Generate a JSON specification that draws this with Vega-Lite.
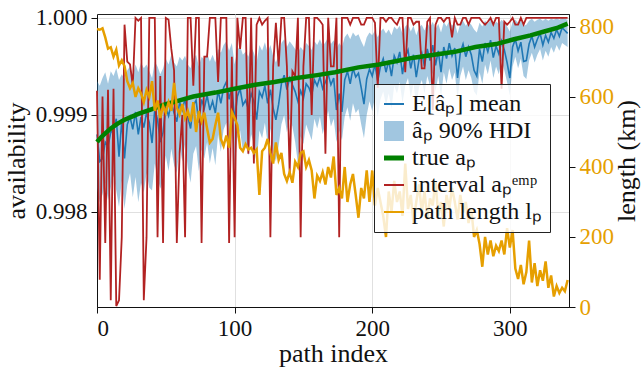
{
"$schema": "https://vega.github.io/schema/vega-lite/v6.json",
"width": 472, "height": 293,
"autosize": "none",
"padding": {"left": 97, "top": 14, "right": 75, "bottom": 60},
"config": {
  "font": "Liberation Serif",
  "view": {"stroke": "#222", "strokeWidth": 1},
  "axis": {"labelFont": "Liberation Serif", "titleFont": "Liberation Serif", "labelFontSize": 23, "titleFontSize": 26, "titleFontWeight": "normal", "labelColor": "#111", "titleColor": "#111", "tickColor": "#111", "domainColor": "#111", "gridColor": "#e0e0e0", "tickSize": 6, "labelPadding": 4, "grid": true},
  "legend": {"labelFont": "Liberation Serif"}
},
"datasets": {
"t": [
{"i":0,"a":0.99872},{"i":3,"a":0.99877},{"i":6,"a":0.99881},{"i":10,"a":0.99886},{"i":15,"a":0.99891},{"i":20,"a":0.99895},{"i":25,"a":0.99898},{"i":30,"a":0.99901},{"i":40,"a":0.99906},{"i":50,"a":0.99911},{"i":60,"a":0.99915},{"i":70,"a":0.99919},{"i":86,"a":0.99923},{"i":100,"a":0.99927},{"i":115,"a":0.99931},{"i":129,"a":0.99934},{"i":145,"a":0.99938},{"i":160,"a":0.99941},{"i":173,"a":0.99944},{"i":190,"a":0.99949},{"i":205,"a":0.99952},{"i":216,"a":0.99955},{"i":230,"a":0.99959},{"i":245,"a":0.99962},{"i":260,"a":0.99965},{"i":275,"a":0.9997},{"i":290,"a":0.99973},{"i":303,"a":0.99978},{"i":315,"a":0.99982},{"i":325,"a":0.99986},{"i":335,"a":0.9999},{"i":342,"a":0.99994}
],
"d": [
{"i":0,"m":0.9988,"b1":0.99825,"b2":0.99935,"e":0.99925,"l":794},
{"i":2,"m":0.99852,"b1":0.9981,"b2":0.9993,"e":0.9973,"l":792},
{"i":4,"m":0.99855,"b1":0.99818,"b2":0.99938,"e":0.99919,"l":796},
{"i":6,"m":0.99872,"b1":0.9983,"b2":0.99944,"e":0.99768,"l":770},
{"i":8,"m":0.99868,"b1":0.99812,"b2":0.99932,"e":0.99926,"l":738},
{"i":10,"m":0.99882,"b1":0.99825,"b2":0.99945,"e":0.99709,"l":742},
{"i":12,"m":0.99884,"b1":0.99838,"b2":0.9994,"e":0.99927,"l":715},
{"i":14,"m":0.99896,"b1":0.99822,"b2":0.99948,"e":0.99703,"l":735},
{"i":16,"m":0.99857,"b1":0.99805,"b2":0.99936,"e":0.99709,"l":690},
{"i":18,"m":0.99894,"b1":0.99832,"b2":0.99942,"e":0.99774,"l":705},
{"i":20,"m":0.99855,"b1":0.99803,"b2":0.99937,"e":0.99993,"l":688},
{"i":22,"m":0.9989,"b1":0.99828,"b2":0.99946,"e":0.99955,"l":645},
{"i":24,"m":0.99898,"b1":0.9984,"b2":0.9995,"e":0.99952,"l":625},
{"i":26,"m":0.99885,"b1":0.99815,"b2":0.99941,"e":0.9993,"l":640},
{"i":28,"m":0.99903,"b1":0.99836,"b2":0.99952,"e":1,"l":600},
{"i":30,"m":0.9988,"b1":0.9981,"b2":0.99944,"e":0.99997,"l":625},
{"i":32,"m":0.99898,"b1":0.9983,"b2":0.99954,"e":1,"l":610},
{"i":34,"m":0.99887,"b1":0.9982,"b2":0.99948,"e":0.99709,"l":585},
{"i":36,"m":0.99902,"b1":0.9984,"b2":0.99952,"e":0.99774,"l":620},
{"i":38,"m":0.99892,"b1":0.99825,"b2":0.99945,"e":1,"l":600},
{"i":40,"m":0.99871,"b1":0.99822,"b2":0.99938,"e":1,"l":645},
{"i":42,"m":0.99906,"b1":0.9985,"b2":0.99955,"e":1,"l":560},
{"i":44,"m":0.99895,"b1":0.99835,"b2":0.9995,"e":0.99774,"l":590},
{"i":46,"m":0.99872,"b1":0.99824,"b2":0.99942,"e":0.9994,"l":540},
{"i":48,"m":0.99882,"b1":0.99832,"b2":0.99948,"e":0.99768,"l":575},
{"i":50,"m":0.99908,"b1":0.99858,"b2":0.99958,"e":1,"l":555},
{"i":52,"m":0.99899,"b1":0.99842,"b2":0.99952,"e":0.99998,"l":585},
{"i":54,"m":0.99912,"b1":0.99865,"b2":0.99962,"e":0.99968,"l":560},
{"i":56,"m":0.99902,"b1":0.99848,"b2":0.99954,"e":0.99946,"l":640},
{"i":58,"m":0.99893,"b1":0.9984,"b2":0.9995,"e":0.99768,"l":570},
{"i":60,"m":0.99913,"b1":0.99868,"b2":0.9996,"e":0.9986,"l":550},
{"i":62,"m":0.99905,"b1":0.99852,"b2":0.99956,"e":0.999,"l":580},
{"i":64,"m":0.99917,"b1":0.9987,"b2":0.99961,"e":0.99774,"l":540},
{"i":66,"m":0.99898,"b1":0.99845,"b2":0.99952,"e":1,"l":560},
{"i":68,"m":0.99886,"b1":0.9983,"b2":0.99948,"e":1,"l":530},
{"i":70,"m":0.9991,"b1":0.9986,"b2":0.99958,"e":0.9993,"l":585},
{"i":72,"m":0.99915,"b1":0.99868,"b2":0.99962,"e":1,"l":500},
{"i":74,"m":0.99892,"b1":0.99842,"b2":0.9995,"e":1,"l":560},
{"i":76,"m":0.99916,"b1":0.99864,"b2":0.9996,"e":0.99768,"l":530},
{"i":78,"m":0.99907,"b1":0.99855,"b2":0.99957,"e":0.9996,"l":555},
{"i":80,"m":0.9992,"b1":0.99872,"b2":0.99964,"e":0.9996,"l":510},
{"i":82,"m":0.99905,"b1":0.9985,"b2":0.99955,"e":1,"l":470},
{"i":84,"m":0.99914,"b1":0.99866,"b2":0.99962,"e":1,"l":480},
{"i":86,"m":0.99902,"b1":0.99848,"b2":0.99954,"e":1,"l":520},
{"i":88,"m":0.99925,"b1":0.9988,"b2":0.99968,"e":0.99934,"l":555},
{"i":90,"m":0.99912,"b1":0.99862,"b2":0.99964,"e":1,"l":480},
{"i":92,"m":0.99928,"b1":0.99885,"b2":0.99972,"e":1,"l":460},
{"i":94,"m":0.99934,"b1":0.99892,"b2":0.99976,"e":1,"l":490},
{"i":96,"m":0.99916,"b1":0.9987,"b2":0.99966,"e":0.99768,"l":455},
{"i":98,"m":0.9993,"b1":0.99888,"b2":0.99974,"e":0.9996,"l":557},
{"i":100,"m":0.99894,"b1":0.99844,"b2":0.99952,"e":0.99774,"l":540},
{"i":102,"m":0.99919,"b1":0.99876,"b2":0.99967,"e":1,"l":520},
{"i":104,"m":0.99927,"b1":0.99884,"b2":0.99971,"e":0.99968,"l":455},
{"i":106,"m":0.9991,"b1":0.99862,"b2":0.99962,"e":1,"l":445},
{"i":108,"m":0.99915,"b1":0.99872,"b2":0.99965,"e":1,"l":465},
{"i":110,"m":0.99906,"b1":0.99858,"b2":0.9996,"e":0.9986,"l":450},
{"i":112,"m":0.99922,"b1":0.9988,"b2":0.9997,"e":1,"l":455},
{"i":114,"m":0.99914,"b1":0.9987,"b2":0.99964,"e":0.9985,"l":440},
{"i":116,"m":0.99895,"b1":0.9985,"b2":0.99954,"e":0.99993,"l":450},
{"i":118,"m":0.99924,"b1":0.99884,"b2":0.99972,"e":1,"l":320},
{"i":120,"m":0.99918,"b1":0.99876,"b2":0.99966,"e":0.99993,"l":445},
{"i":122,"m":0.9993,"b1":0.99892,"b2":0.99975,"e":0.99997,"l":455},
{"i":124,"m":0.99912,"b1":0.9987,"b2":0.99964,"e":1,"l":480},
{"i":126,"m":0.99926,"b1":0.99886,"b2":0.99972,"e":0.99774,"l":440},
{"i":128,"m":0.99907,"b1":0.99862,"b2":0.99961,"e":0.9995,"l":410},
{"i":130,"m":0.99895,"b1":0.99852,"b2":0.99954,"e":0.99995,"l":470},
{"i":132,"m":0.99911,"b1":0.99868,"b2":0.99962,"e":0.9995,"l":420},
{"i":134,"m":0.99932,"b1":0.9989,"b2":0.99974,"e":1,"l":440},
{"i":136,"m":0.99941,"b1":0.999,"b2":0.99978,"e":1,"l":380},
{"i":138,"m":0.99926,"b1":0.99882,"b2":0.9997,"e":0.9995,"l":360},
{"i":140,"m":0.99938,"b1":0.99896,"b2":0.99976,"e":0.9984,"l":385},
{"i":142,"m":0.99931,"b1":0.99888,"b2":0.99972,"e":0.99945,"l":355},
{"i":144,"m":0.99924,"b1":0.99872,"b2":0.99968,"e":0.9994,"l":415},
{"i":146,"m":0.99914,"b1":0.9985,"b2":0.99964,"e":1,"l":400},
{"i":148,"m":0.99925,"b1":0.99878,"b2":0.9997,"e":0.99774,"l":440},
{"i":150,"m":0.99917,"b1":0.9987,"b2":0.99966,"e":0.9995,"l":445},
{"i":152,"m":0.99932,"b1":0.9989,"b2":0.99974,"e":1,"l":400},
{"i":154,"m":0.99928,"b1":0.99882,"b2":0.99971,"e":1,"l":420},
{"i":156,"m":0.9992,"b1":0.99874,"b2":0.99967,"e":0.999,"l":390},
{"i":158,"m":0.99936,"b1":0.99896,"b2":0.99976,"e":1,"l":310},
{"i":160,"m":0.9993,"b1":0.99886,"b2":0.99972,"e":1,"l":375},
{"i":162,"m":0.99939,"b1":0.99898,"b2":0.99978,"e":0.99997,"l":360},
{"i":164,"m":0.99927,"b1":0.9988,"b2":0.99971,"e":0.99993,"l":385},
{"i":166,"m":0.99934,"b1":0.99892,"b2":0.99975,"e":0.9986,"l":350},
{"i":168,"m":0.99942,"b1":0.99904,"b2":0.9998,"e":1,"l":400},
{"i":170,"m":0.99931,"b1":0.99888,"b2":0.99973,"e":0.9995,"l":370},
{"i":172,"m":0.99938,"b1":0.99896,"b2":0.99977,"e":0.9995,"l":430},
{"i":174,"m":0.99905,"b1":0.99872,"b2":0.99968,"e":1,"l":320},
{"i":176,"m":0.99922,"b1":0.99884,"b2":0.99974,"e":0.99774,"l":340},
{"i":178,"m":0.99903,"b1":0.99874,"b2":0.9997,"e":1,"l":310},
{"i":180,"m":0.99936,"b1":0.99898,"b2":0.9998,"e":1,"l":400},
{"i":182,"m":0.99945,"b1":0.99908,"b2":0.99984,"e":1,"l":300},
{"i":184,"m":0.99932,"b1":0.99894,"b2":0.99978,"e":0.99993,"l":350},
{"i":186,"m":0.99948,"b1":0.99912,"b2":0.99985,"e":1,"l":380},
{"i":188,"m":0.99939,"b1":0.99902,"b2":0.99981,"e":1,"l":320},
{"i":190,"m":0.99943,"b1":0.99906,"b2":0.99983,"e":1,"l":255},
{"i":192,"m":0.99928,"b1":0.9989,"b2":0.99976,"e":0.99993,"l":340},
{"i":194,"m":0.99911,"b1":0.99876,"b2":0.9997,"e":0.99993,"l":310},
{"i":196,"m":0.99937,"b1":0.999,"b2":0.9998,"e":1,"l":390},
{"i":198,"m":0.99947,"b1":0.99914,"b2":0.99985,"e":1,"l":300},
{"i":200,"m":0.9994,"b1":0.99904,"b2":0.99982,"e":1,"l":390},
{"i":202,"m":0.99952,"b1":0.99918,"b2":0.99987,"e":0.99995,"l":290},
{"i":204,"m":0.99935,"b1":0.99898,"b2":0.9998,"e":0.99928,"l":340},
{"i":206,"m":0.9995,"b1":0.99916,"b2":0.99986,"e":1,"l":300},
{"i":208,"m":0.99958,"b1":0.99924,"b2":0.99989,"e":1,"l":260},
{"i":210,"m":0.99944,"b1":0.9991,"b2":0.99984,"e":0.99996,"l":200},
{"i":212,"m":0.99956,"b1":0.99922,"b2":0.99988,"e":1,"l":330},
{"i":214,"m":0.9994,"b1":0.99906,"b2":0.99982,"e":1,"l":270},
{"i":216,"m":0.99961,"b1":0.9993,"b2":0.99991,"e":0.99996,"l":360},
{"i":218,"m":0.99954,"b1":0.99922,"b2":0.99988,"e":0.99993,"l":300},
{"i":220,"m":0.99965,"b1":0.99934,"b2":0.99992,"e":1,"l":330},
{"i":222,"m":0.99942,"b1":0.99912,"b2":0.99984,"e":1,"l":260},
{"i":224,"m":0.9996,"b1":0.9993,"b2":0.99991,"e":0.99944,"l":410},
{"i":226,"m":0.99967,"b1":0.99938,"b2":0.99994,"e":1,"l":280},
{"i":228,"m":0.99948,"b1":0.99918,"b2":0.99986,"e":1,"l":320},
{"i":230,"m":0.99962,"b1":0.99932,"b2":0.99992,"e":0.99993,"l":240},
{"i":232,"m":0.99939,"b1":0.9991,"b2":0.99982,"e":0.99996,"l":300},
{"i":234,"m":0.99957,"b1":0.99928,"b2":0.9999,"e":0.99996,"l":350},
{"i":236,"m":0.99964,"b1":0.99936,"b2":0.99993,"e":0.99948,"l":270},
{"i":238,"m":0.9995,"b1":0.99922,"b2":0.99987,"e":0.99948,"l":330},
{"i":240,"m":0.99968,"b1":0.9994,"b2":0.99995,"e":0.99996,"l":250},
{"i":242,"m":0.99956,"b1":0.9993,"b2":0.9999,"e":1,"l":310},
{"i":244,"m":0.99972,"b1":0.99944,"b2":0.99996,"e":0.99905,"l":290},
{"i":246,"m":0.99951,"b1":0.99924,"b2":0.99988,"e":0.99993,"l":360},
{"i":248,"m":0.99966,"b1":0.9994,"b2":0.99994,"e":1,"l":260},
{"i":250,"m":0.99944,"b1":0.99918,"b2":0.99985,"e":1,"l":300},
{"i":252,"m":0.9997,"b1":0.99944,"b2":0.99996,"e":0.99996,"l":230},
{"i":254,"m":0.99958,"b1":0.99932,"b2":0.99991,"e":1,"l":320},
{"i":256,"m":0.99974,"b1":0.99948,"b2":0.99997,"e":1,"l":280},
{"i":258,"m":0.99961,"b1":0.99936,"b2":0.99992,"e":0.9998,"l":340},
{"i":260,"m":0.99969,"b1":0.99944,"b2":0.99995,"e":1,"l":300},
{"i":262,"m":0.99938,"b1":0.99916,"b2":0.99984,"e":0.99993,"l":250},
{"i":264,"m":0.99964,"b1":0.9994,"b2":0.99994,"e":0.99993,"l":320},
{"i":266,"m":0.99973,"b1":0.9995,"b2":0.99997,"e":1,"l":270},
{"i":268,"m":0.9996,"b1":0.99936,"b2":0.99992,"e":1,"l":300},
{"i":270,"m":0.9997,"b1":0.99946,"b2":0.99996,"e":0.99993,"l":240},
{"i":272,"m":0.99962,"b1":0.99938,"b2":0.99993,"e":1,"l":280},
{"i":274,"m":0.99946,"b1":0.99924,"b2":0.99988,"e":1,"l":200},
{"i":276,"m":0.9994,"b1":0.9992,"b2":0.99985,"e":1,"l":220},
{"i":278,"m":0.99968,"b1":0.99944,"b2":0.99995,"e":1,"l":180},
{"i":280,"m":0.99955,"b1":0.99932,"b2":0.99991,"e":0.99996,"l":115},
{"i":282,"m":0.99974,"b1":0.99952,"b2":0.99997,"e":0.99993,"l":200},
{"i":284,"m":0.99965,"b1":0.99942,"b2":0.99994,"e":0.99996,"l":150},
{"i":286,"m":0.99977,"b1":0.99956,"b2":0.99998,"e":1,"l":190},
{"i":288,"m":0.99959,"b1":0.99938,"b2":0.99992,"e":0.99993,"l":145},
{"i":290,"m":0.99971,"b1":0.9995,"b2":0.99996,"e":1,"l":175},
{"i":292,"m":0.99963,"b1":0.99942,"b2":0.99994,"e":1,"l":160},
{"i":294,"m":0.99976,"b1":0.99956,"b2":0.99998,"e":0.99927,"l":190},
{"i":296,"m":0.99967,"b1":0.99946,"b2":0.99995,"e":0.99996,"l":150},
{"i":298,"m":0.99954,"b1":0.99934,"b2":0.99991,"e":0.99993,"l":225},
{"i":300,"m":0.99938,"b1":0.9992,"b2":0.99986,"e":0.99996,"l":170},
{"i":302,"m":0.9997,"b1":0.9995,"b2":0.99996,"e":1,"l":220},
{"i":304,"m":0.99978,"b1":0.9996,"b2":0.99998,"e":0.99993,"l":110},
{"i":306,"m":0.99966,"b1":0.99948,"b2":0.99995,"e":0.99993,"l":80},
{"i":308,"m":0.99975,"b1":0.99958,"b2":0.99997,"e":1,"l":120},
{"i":310,"m":0.99955,"b1":0.9994,"b2":0.99992,"e":0.99993,"l":65},
{"i":312,"m":0.99956,"b1":0.99937,"b2":0.99993,"e":1,"l":100},
{"i":314,"m":0.99973,"b1":0.99956,"b2":0.99997,"e":1,"l":190},
{"i":316,"m":0.99981,"b1":0.99964,"b2":0.99999,"e":1,"l":70},
{"i":318,"m":0.9997,"b1":0.99954,"b2":0.99996,"e":1,"l":125},
{"i":320,"m":0.99978,"b1":0.99962,"b2":0.99998,"e":1,"l":60},
{"i":322,"m":0.99984,"b1":0.99968,"b2":0.99999,"e":1,"l":105},
{"i":324,"m":0.99972,"b1":0.99956,"b2":0.99997,"e":1,"l":75},
{"i":326,"m":0.99982,"b1":0.99966,"b2":0.99999,"e":1,"l":130},
{"i":328,"m":0.99975,"b1":0.9996,"b2":0.99997,"e":1,"l":55},
{"i":330,"m":0.99985,"b1":0.9997,"b2":0.99999,"e":1,"l":90},
{"i":332,"m":0.99979,"b1":0.99964,"b2":0.99998,"e":1,"l":30},
{"i":334,"m":0.99988,"b1":0.99972,"b2":1,"e":1,"l":60},
{"i":336,"m":0.99981,"b1":0.99966,"b2":0.99998,"e":1,"l":40},
{"i":338,"m":0.9999,"b1":0.99974,"b2":1,"e":1,"l":55},
{"i":340,"m":0.99987,"b1":0.99972,"b2":0.99999,"e":1,"l":45},
{"i":342,"m":0.99984,"b1":0.9997,"b2":0.99998,"e":1,"l":77}
]
},
"encoding": {
  "x": {"field": "i", "type": "quantitative", "scale": {"domain": [0, 343], "nice": false, "zero": false}, "axis": {"values": [0, 100, 200, 300], "title": "path index", "titlePadding": 0, "labelFont": "Liberation Serif", "titleFont": "Liberation Serif"}}
},
"layer": [
  {
    "data": {"name": "d"},
    "layer": [
      {
        "mark": {"type": "area", "opacity": 0.4},
        "encoding": {
          "y": {"field": "b1", "type": "quantitative", "title": "availability", "scale": {"domain": [0.99702, 1.00004], "nice": false, "zero": false}, "axis": {"values": [0.998, 0.999, 1.0], "format": ".3f", "titlePadding": 6, "labelFont": "Liberation Serif", "titleFont": "Liberation Serif"}},
          "y2": {"field": "b2"},
          "color": {"datum": "âₚ 90% HDI", "type": "nominal",
            "scale": {"domain": ["E[âₚ] mean", "âₚ 90% HDI", "true aₚ", "interval aₚᵉᵐᵖ", "path length lₚ"], "range": ["#1f77b4", "#1f77b4", "#008000", "#b22222", "#e69f00"]},
            "legend": {"orient": "none", "legendX": 277, "legendY": 70, "title": null, "labelFont": "Liberation Serif", "labelFontSize": 24, "labelColor": "#111", "labelLimit": 300, "symbolSize": 400, "padding": 8, "rowPadding": 3, "labelOffset": 6, "strokeColor": "#222", "fillColor": "rgba(255,255,255,0.8)", "cornerRadius": 0, "zindex": 1,
              "symbolType": {"expr": "datum.index === 1 ? 'square' : 'stroke'"},
              "symbolFillColor": {"expr": "datum.index === 1 ? '#1f77b4' : 'transparent'"},
              "symbolStrokeWidth": {"expr": "datum.index === 1 ? 0 : (datum.index === 2 ? 5 : 2)"},
              "symbolOpacity": {"expr": "datum.index === 1 ? 0.42 : 1"}
            }
          }
        }
      },
      {
        "mark": {"type": "line", "strokeWidth": 1.6},
        "encoding": {
          "y": {"field": "m", "type": "quantitative", "title": "availability"},
          "color": {"datum": "E[âₚ] mean", "type": "nominal"}
        }
      },
      {
        "mark": {"type": "line", "strokeWidth": 1.8},
        "encoding": {
          "y": {"field": "e", "type": "quantitative", "title": "availability"},
          "color": {"datum": "interval aₚᵉᵐᵖ", "type": "nominal"}
        }
      },
      {
        "data": {"name": "t"},
        "mark": {"type": "line", "strokeWidth": 4.5},
        "encoding": {
          "y": {"field": "a", "type": "quantitative", "title": "availability"},
          "color": {"datum": "true aₚ", "type": "nominal"}
        }
      }
    ]
  },
  {
    "data": {"name": "d"},
    "mark": {"type": "line", "strokeWidth": 2.5},
    "encoding": {
      "y": {"field": "l", "type": "quantitative", "title": "length (km)", "scale": {"domain": [0, 837], "nice": false}, "axis": {"orient": "right", "values": [0, 200, 400, 600, 800], "labelColor": "#e69f00", "titleAngle": -90, "titlePadding": 26, "labelFont": "Liberation Serif", "titleFont": "Liberation Serif"}},
      "color": {"datum": "path length lₚ", "type": "nominal"}
    }
  }
],
"resolve": {"scale": {"y": "independent"}}
}
